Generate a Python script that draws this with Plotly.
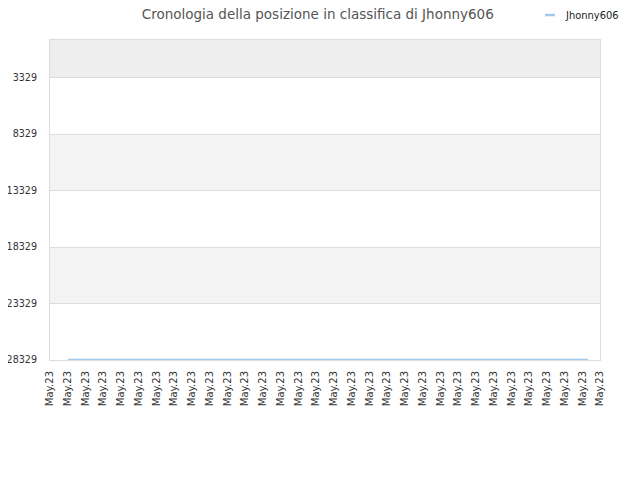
import plotly.graph_objects as go

# ranking history of Jhonny606
player = "Jhonny606"
dates = ["2023-05-02", "2023-05-31 08:00"]
ranks = [28290, 28290]

tick_dates = ["2023-05-%02d" % d for d in range(1, 32)] + ["2023-06-01"]
tick_text = ["May.23"] * len(tick_dates)
y_ticks = [3329, 8329, 13329, 18329, 23329, 28329]
y_text = [str(v) for v in y_ticks]

line_col = "#a3c8ee"

fig = go.Figure()
fig.add_trace(go.Scatter(x=dates, y=ranks, mode="lines", name=player,
                         line=dict(color=line_col, width=1.5), showlegend=False))

# alternating grey bands between the grid lines
bands = [(0, 3329, "#eeeeee"), (8329, 13329, "#f3f3f3"), (18329, 23329, "#f3f3f3")]
for y0, y1, col in bands:
    fig.add_shape(type="rect", xref="paper", x0=0, x1=1, yref="y", y0=y0, y1=y1,
                  fillcolor=col, line_width=0, layer="below")

# small legend in the top right corner
fig.add_shape(type="line", xref="paper", yref="paper", x0=0.9, x1=0.918,
              y0=1.078, y1=1.078, line=dict(color=line_col, width=2.5))
fig.add_annotation(text=player, xref="paper", yref="paper", x=0.932, y=1.078,
                   xanchor="left", yanchor="middle", showarrow=False,
                   font=dict(family="DejaVu Sans Condensed", size=11, color="#222222"))

fig.update_layout(
    width=640, height=480,
    title=dict(text="Cronologia della posizione in classifica di " + player,
               x=0.484, xanchor="center", y=0.9875, yanchor="middle",
               font=dict(family="DejaVu Sans", size=13.5, color="#555555")),
    margin=dict(l=42, r=48, t=32, b=128, autoexpand=False),
    paper_bgcolor="white", plot_bgcolor="white",
    showlegend=False,
    font=dict(family="DejaVu Sans", size=10, color="#333333"),
)
fig.update_xaxes(type="date", range=["2023-05-01", "2023-06-01"],
                 tickvals=tick_dates, ticktext=tick_text, tickangle=-90,
                 showgrid=False, showline=True, linecolor="#dddddd", mirror=True,
                 zeroline=False, automargin=False, ticklabelstandoff=6,
                 ticklabeloverflow="allow",
                 tickfont=dict(size=10, color="#333333"))
fig.update_yaxes(range=[28329, 0], tickvals=y_ticks, ticktext=y_text,
                 showgrid=True, gridcolor="#dddddd", showline=True,
                 linecolor="#dddddd", mirror=True, zeroline=False,
                 automargin=False, ticklabelstandoff=10, ticklabeloverflow="allow",
                 tickfont=dict(size=9.6, color="#333333"), ticks="")

fig.write_html("out.html")
